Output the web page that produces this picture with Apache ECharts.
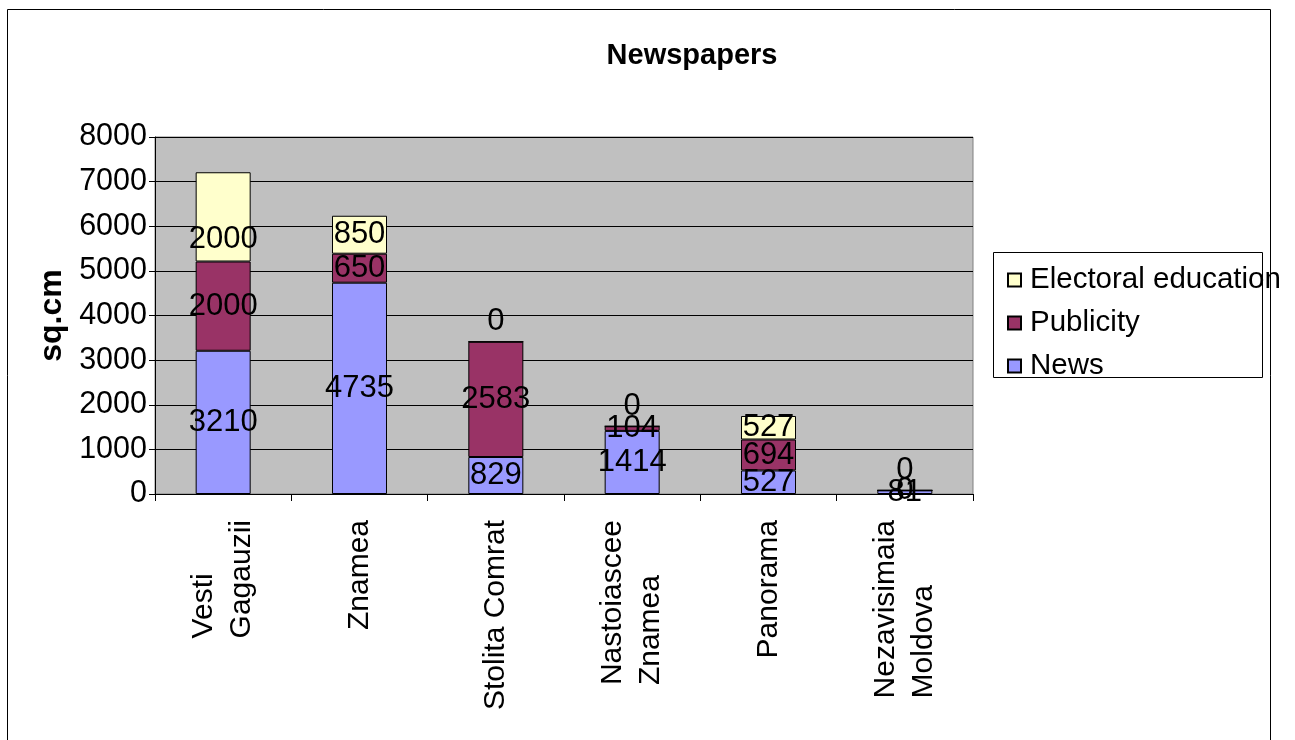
<!DOCTYPE html>
<html>
<head>
<meta charset="utf-8">
<script src="https://cdn.jsdelivr.net/npm/echarts@6/dist/echarts.min.js"></script>
<style>
html,body{margin:0;padding:0;background:#fff;}
#chart{width:1295px;height:740px;}
</style>
</head>
<body>
<div id="chart"></div>
<script>
var categories = [['Vesti', 'Gagauzii'], ['Znamea'], ['Stolita Comrat'], ['Nastoiascee', 'Znamea'], ['Panorama'], ['Nezavisimaia', 'Moldova']];
var news = [3210, 4735, 829, 1414, 527, 81];
var publicity = [2000, 650, 2583, 104, 694, 0];
var electoral = [2000, 850, 0, 0, 527, 0];
var yTicks = [0, 1000, 2000, 3000, 4000, 5000, 6000, 7000, 8000];

var FONT = '"Liberation Sans", Arial, sans-serif';
var catNames = categories.map(function (c) { return c.join('\n'); });

function mkData(arr, isTop) {
  return arr.map(function (v, i) {
    if (isTop && v === 0) {
      return { value: v, label: { position: 'top', distance: 4 } };
    }
    if (isTop && i === 0) {
      // label pushed down slightly as in the reference
      return { value: v, label: { offset: [0, 23] } };
    }
    return v;
  });
}

var chart = echarts.init(document.getElementById('chart'));
var labelStyle = { show: true, position: 'inside', color: '#000', fontSize: 31, fontFamily: FONT };

chart.setOption({
  animation: false,
  backgroundColor: '#fff',
  title: {
    text: 'Newspapers',
    left: 687, top: 36, textAlign: 'center',
    textStyle: { fontSize: 29, fontWeight: 'bold', color: '#000', fontFamily: FONT }
  },
  grid: {
    left: 155, right: 322, top: 137, bottom: 246,
    show: true, backgroundColor: '#C0C0C0', borderColor: '#808080', borderWidth: 1
  },
  legend: {
    orient: 'vertical',
    left: 1002, top: 260,
    itemWidth: 13, itemHeight: 13, itemGap: 13,
    icon: 'rect',
    data: ['Electoral education', 'Publicity', 'News'],
    textStyle: { fontSize: 29.5, color: '#000', fontFamily: FONT, lineHeight: 30, padding: [0, 0, 0, 4] }
  },
  graphic: [
    { type: 'rect', shape: { x: 7.5, y: 9.5, width: 1263, height: 760 }, style: { fill: 'none', stroke: '#000', lineWidth: 1 }, z: -1 },
    { type: 'rect', shape: { x: 993.5, y: 252.5, width: 269, height: 125 }, style: { fill: 'none', stroke: '#000', lineWidth: 1 }, z: 10 }
  ],
  xAxis: {
    type: 'category',
    data: catNames,
    axisLine: { lineStyle: { color: '#000', width: 1 } },
    axisTick: { show: true, length: 7, lineStyle: { color: '#000' } },
    axisLabel: {
      rotate: 90, margin: 26, color: '#000', fontSize: 30, fontFamily: FONT, lineHeight: 38,
      interval: 0,
      formatter: function (v) {
        return v.split('\n').map(function (s) { return '{a|' + s + '}'; }).join('\n');
      },
      rich: { a: { fontSize: 30, fontFamily: FONT, color: '#000', align: 'left', lineHeight: 38 } }
    }
  },
  yAxis: {
    type: 'value',
    min: 0, max: 8000, interval: 1000,
    name: 'sq.cm',
    nameLocation: 'middle',
    nameGap: 86,
    nameTextStyle: { fontSize: 32, fontWeight: 'bold', color: '#000', fontFamily: FONT },
    axisLine: { show: true, lineStyle: { color: '#000' } },
    axisTick: { show: true, length: 6, lineStyle: { color: '#000' } },
    axisLabel: {
      color: '#000', fontSize: 30.5, fontFamily: FONT, margin: 8,
      formatter: function (v) { return yTicks.indexOf(v) >= 0 ? String(v) : ''; }
    },
    splitLine: { lineStyle: { color: '#000', width: 1 } }
  },
  series: [
    {
      name: 'News', type: 'bar', stack: 't', barWidth: 55,
      data: mkData(news, false),
      itemStyle: { color: '#9999FF', borderColor: '#000', borderWidth: 1 },
      label: labelStyle
    },
    {
      name: 'Publicity', type: 'bar', stack: 't', barWidth: 55,
      data: mkData(publicity, false),
      itemStyle: { color: '#993366', borderColor: '#000', borderWidth: 1 },
      label: labelStyle
    },
    {
      name: 'Electoral education', type: 'bar', stack: 't', barWidth: 55,
      data: mkData(electoral, true),
      itemStyle: { color: '#FFFFCC', borderColor: '#000', borderWidth: 1 },
      label: labelStyle
    }
  ]
});
</script>
</body>
</html>
